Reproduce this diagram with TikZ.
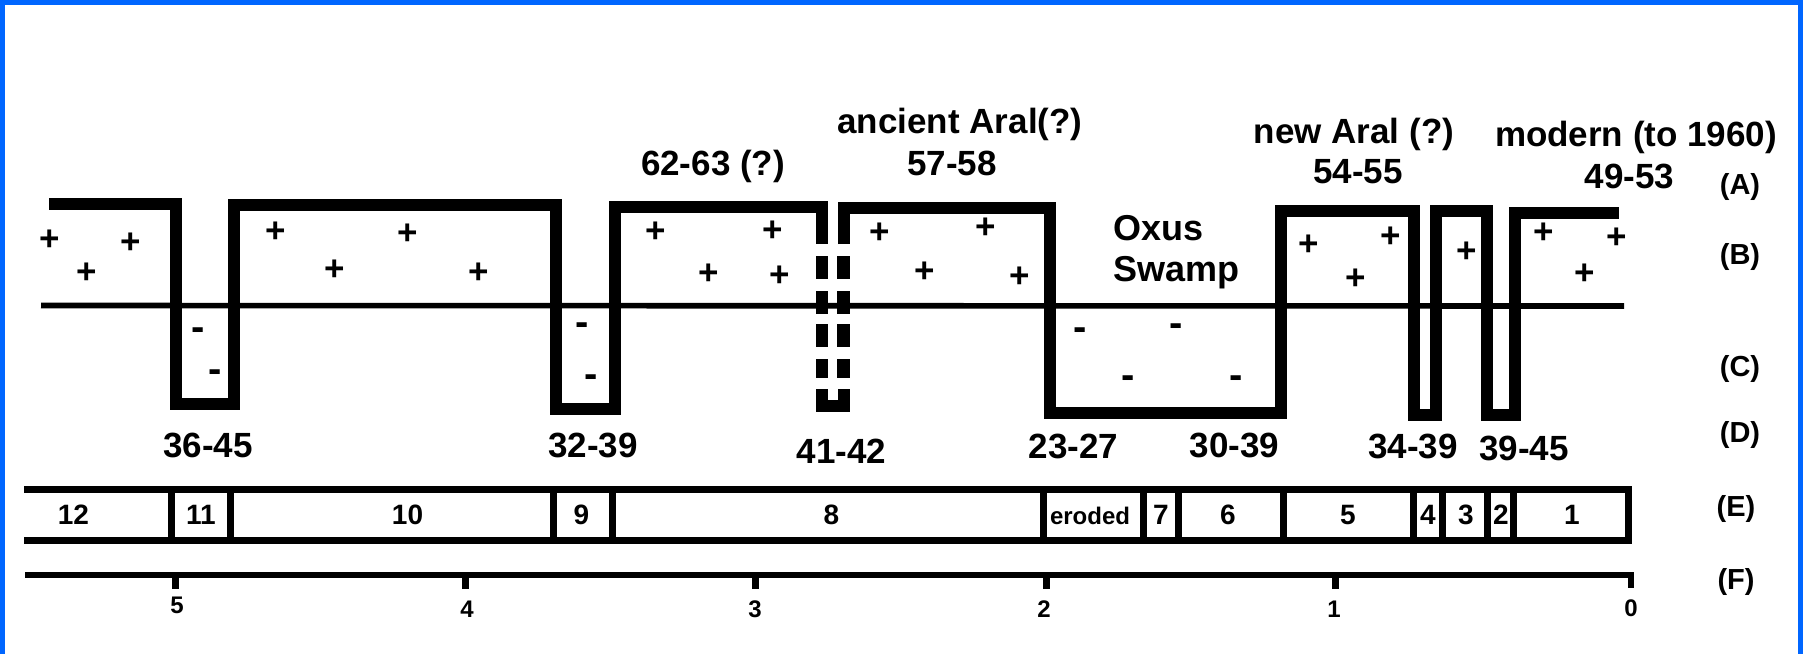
\documentclass[tikz,border=0pt]{standalone}
\usepackage{fontspec}
\setmainfont{Liberation Sans}
\definecolor{frameblue}{RGB}{0,102,255}
\tikzset{
  curve/.style={line width=6pt},
  bar/.style={line width=3.5pt},
  lbl/.style={font=\fontsize{17.5}{20}\selectfont\bfseries, inner sep=0pt, anchor=base},
  swamplbl/.style={font=\fontsize{18}{20}\selectfont\bfseries, inner sep=0pt, anchor=base west},
  rowlbl/.style={font=\fontsize{14.5}{17}\selectfont\bfseries, inner sep=0pt, anchor=base},
  celllbl/.style={font=\fontsize{14}{16}\selectfont\bfseries, inner sep=0pt, anchor=base},
  scalelbl/.style={font=\fontsize{12}{14}\selectfont\bfseries, inner sep=0pt, anchor=base},
  plussign/.style={font=\fontsize{17.5}{20}\selectfont\bfseries, inner sep=0pt},
  minussign/.style={font=\fontsize{20}{22}\selectfont\bfseries, inner sep=0pt},
}
\begin{document}
\begin{tikzpicture}[x=0.5pt,y=-0.5pt]
\useasboundingbox (0,0) rectangle (1803,654);
\fill[frameblue] (0,0) rectangle (1803,5);
\fill[frameblue] (0,0) rectangle (5,654);
\fill[frameblue] (1798,0) rectangle (1803,654);

% level line and the curve
\draw[line width=2.8pt] (41,305.5) -- (1624,306);
\draw[curve] (49,204) -- (176,204) -- (176,403.5) -- (234,403.5) -- (234,205) -- (556,205)
  -- (556,408.5) -- (615,408.5) -- (615,206.5) -- (822,206.5) -- (822,244);
\foreach \ya/\yb in {256/279,291/314,324/347,359/378}{
  \fill (816,\ya) rectangle (828,\yb);
  \fill (837,\ya) rectangle (850,\yb);
}
\draw[curve] (822,389) -- (822,406) -- (843.5,406) -- (843.5,389);
\draw[curve] (843.5,244) -- (843.5,207.5) -- (1049.5,207.5) -- (1049.5,413) -- (1280.5,413)
  -- (1280.5,211) -- (1414,211) -- (1414,415) -- (1435.5,415) -- (1435.5,211) -- (1486.5,211)
  -- (1486.5,415) -- (1515,415) -- (1515,212.5) -- (1619,212.5);

\foreach \x/\y [count=\i] in {50/240,131/243,87/273,276/232,408/234,335/270,479/273,
  656/232,773/231,709/274,780/276,880/233,986/228,925/272,1020/277,
  1309/245,1391/237,1356/279,1467/252,1544/233,1617/238,1585/274}
  \node[plussign] (p\i) at (\x,\y) {+};
\foreach \x/\y [count=\i] in {198/334,215/376,582/329,591/381,1080/334,1176/330,1128/382,1236/382}
  \node[minussign] (m\i) at (\x,\y) {-};

\node[swamplbl] (oxus) at (1113,240) {Oxus};
\node[swamplbl] (swamp) at (1113,281) {Swamp};

% ages above
\node[lbl] (t1) at (713,175) {62-63 (?)};
\node[lbl] (t2) at (960,133) {ancient Aral(?)};
\node[lbl] (t3) at (952,175) {57-58};
\node[lbl] (t4) at (1354,143) {new Aral (?)};
\node[lbl] (t5) at (1358,183) {54-55};
\node[lbl] (t6) at (1636,146) {modern (to 1960)};
\node[lbl] (t7) at (1629.5,188) {49-53};

% ages below
\node[lbl] (d1) at (208,457) {36-45};
\node[lbl] (d2) at (593,457) {32-39};
\node[lbl] (d3) at (841.5,463) {41-42};
\node[lbl] (d4) at (1073.5,458) {23-27};
\node[lbl] (d5) at (1234.5,457) {30-39};
\node[lbl] (d6) at (1413,458) {34-39};
\node[lbl] (d7) at (1524,460) {39-45};

% units
\draw[bar] (24,489.5) -- (1628,489.5) -- (1628,540) -- (24,540);
\foreach \x in {171,230,553.5,612,1043.5,1143,1178,1283,1413,1442,1487,1513}
  \draw[bar] (\x,489.5) -- (\x,540);
\foreach \x/\t [count=\i] in {73.5/12,201/11,407.5/10,581.5/9,831.5/8,1161/7,1228/6,
  1348/5,1428/4,1466/3,1501/2,1572/1}
  \node[celllbl] (e\i) at (\x,524) {\t};
\node[celllbl,font=\fontsize{12}{14}\selectfont\bfseries] (eroded) at (1090,524) {eroded};

% scale
\draw[line width=3.3pt] (25,575) -- (1631,575) -- (1631,588);
\foreach \x in {175,465.5,755,1046.5,1335}
  \draw[bar] (\x,575) -- (\x,589);
\node[scalelbl] (s5) at (177,613) {5};
\foreach \x/\t in {467/4,755/3,1044/2,1334/1}
  \node[scalelbl] (s\t) at (\x,617) {\t};
\node[scalelbl] (s0) at (1631,616) {0};

% rows
\node[rowlbl] (rA) at (1740,194) {(A)};
\node[rowlbl] (rB) at (1740,264) {(B)};
\node[rowlbl] (rC) at (1740,376.5) {(C)};
\node[rowlbl] (rD) at (1740,442) {(D)};
\node[rowlbl] (rE) at (1736,516) {(E)};
\node[rowlbl] (rF) at (1736,589) {(F)};
\end{tikzpicture}
\end{document}
